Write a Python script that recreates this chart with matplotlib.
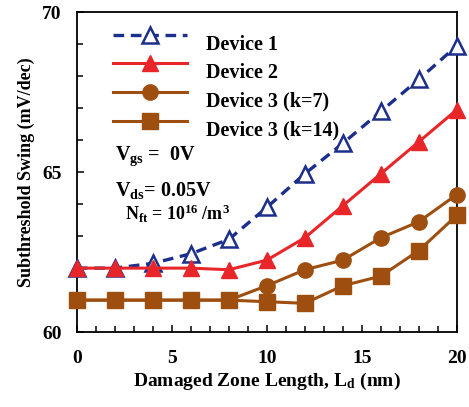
import matplotlib
matplotlib.use("Agg")
import matplotlib.pyplot as plt
from matplotlib.ticker import MultipleLocator

plt.rcParams['font.family'] = 'Liberation Serif'
plt.rcParams['font.weight'] = 'bold'
plt.rcParams['axes.labelweight'] = 'bold'
plt.rcParams['mathtext.default'] = 'regular'

# damaged zone length (nm)
ld = [0, 2, 4, 6, 8, 10, 12, 14, 16, 18, 20]

# subthreshold swing (mV/dec)
ss_dev1 = [62.0, 62.0, 62.15, 62.45, 62.9, 63.9, 64.95, 65.9, 66.9, 67.9, 68.95]
ss_dev2 = [62.0, 62.0, 62.0, 62.0, 61.95, 62.25, 62.95, 63.95, 64.95, 65.95, 66.95]
ss_dev3_k7 = [61.0, 61.0, 61.0, 61.0, 61.0, 61.45, 61.95, 62.25, 62.95, 63.45, 64.3]
ss_dev3_k14 = [61.0, 61.0, 61.0, 61.0, 61.0, 60.95, 60.9, 61.45, 61.75, 62.55, 63.65]

navy = '#1c2f8c'
red = '#e8262a'
brown = '#9e4f10'

fig = plt.figure(figsize=(4.69, 4.07), dpi=100)
ax = fig.add_axes([0.164, 0.184, 0.81, 0.786])

ax.plot(ld, ss_dev1, color=navy, lw=2.4, ls=(0, (3.2, 2.0)), marker='^', ms=11,
        mfc='white', mec=navy, mew=1.8, label='Device 1', clip_on=False, zorder=3)
ax.plot(ld, ss_dev2, color=red, lw=2.2, marker='^', ms=11.5,
        mfc=red, mec=red, label='Device 2', clip_on=False, zorder=4)
ax.plot(ld, ss_dev3_k7, color=brown, lw=2.2, marker='o', ms=11,
        mfc=brown, mec=brown, label='Device 3 (k=7)', clip_on=False, zorder=3)
ax.plot(ld, ss_dev3_k14, color=brown, lw=2.2, marker='s', ms=12,
        mfc=brown, mec=brown, label='Device 3 (k=14)', clip_on=False, zorder=3)

ax.set_xlim(0, 20)
ax.set_ylim(60, 70)
ax.xaxis.set_major_locator(MultipleLocator(5))
ax.xaxis.set_minor_locator(MultipleLocator(1))
ax.yaxis.set_major_locator(MultipleLocator(5))
ax.yaxis.set_minor_locator(MultipleLocator(1))
ax.tick_params(which='both', direction='in', width=1.1, labelsize=14)
ax.tick_params(which='major', length=5)
ax.tick_params(which='minor', length=4)
ax.tick_params(axis='x', pad=13)
ax.tick_params(axis='y', pad=11)
for lbl in ax.get_xticklabels() + ax.get_yticklabels():
    lbl.set_fontweight('bold')
for sp in ax.spines.values():
    sp.set_linewidth(1.3)

ax.set_xlabel('Damaged Zone Length, $\\mathregular{L_d}$ (nm)', fontsize=14, labelpad=3)
ax.set_ylabel('Subthreshold Swing (mV/dec)', fontsize=13, labelpad=5)

leg = ax.legend(loc='upper left', bbox_to_anchor=(0.094, 0.955), frameon=False,
                prop={'family': 'Liberation Serif', 'weight': 'bold', 'size': 14.5},
                handlelength=3.7, handletextpad=0.95, labelspacing=0.43,
                borderaxespad=0, borderpad=0)
# labels sit a little below their line samples
for t in leg.get_texts():
    t.set_fontweight('bold')
    t.set_y(-8)

ax.text(0.1, 0.55, '$\\mathregular{V_{gs}}$ =  0V', transform=ax.transAxes,
        fontsize=14.5, va='center', ha='left')
ax.text(0.1, 0.442, '$\\mathregular{V_{ds}}$= 0.05V', transform=ax.transAxes,
        fontsize=14.5, va='center', ha='left')
ax.text(0.126, 0.37, '$\\mathregular{N_{ft}}$ = $\\mathregular{10^{16}}$ /$\\mathregular{m^3}$',
        transform=ax.transAxes, fontsize=13, va='center', ha='left')

fig.savefig('out.png', dpi=100)
